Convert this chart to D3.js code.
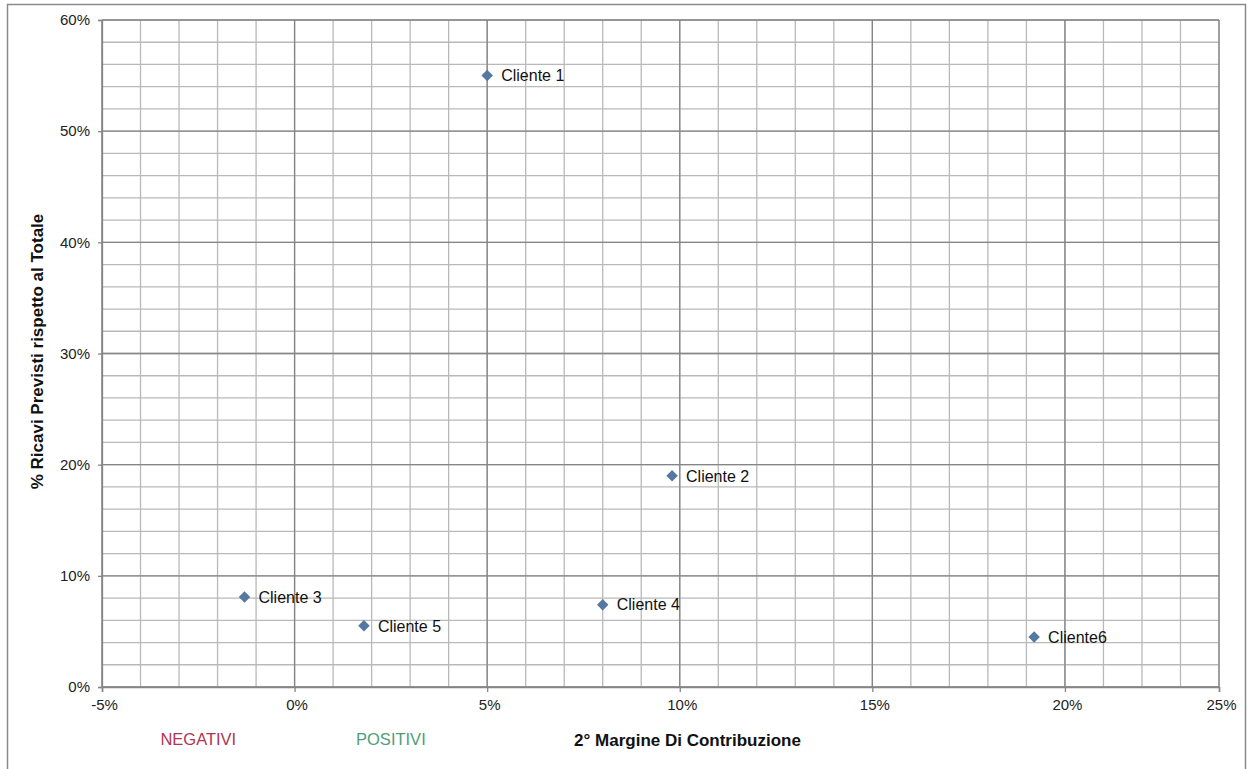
<!DOCTYPE html>
<html>
<head>
<meta charset="utf-8">
<script src="https://cdn.jsdelivr.net/npm/d3@7"></script>
<style>
  html, body { margin: 0; padding: 0; background: #fff; }
  svg { display: block; font-family: "Liberation Sans", Arial, sans-serif; }
</style>
</head>
<body>
<svg id="chart" width="1248" height="769"></svg>
<script>
// ---- data ----
const clients = ["Cliente 1", "Cliente 2", "Cliente 3", "Cliente 4", "Cliente 5", "Cliente6"];
const margin2 = [5.0, 9.8, -1.3, 8.0, 1.8, 19.2];      // 2° Margine Di Contribuzione (%)
const revenueShare = [55.0, 19.0, 8.1, 7.4, 5.5, 4.5]; // % Ricavi Previsti rispetto al Totale

const xMajorTicks = [-5, 0, 5, 10, 15, 20, 24];
const xTickLabels = ["-5%", "0%", "5%", "10%", "15%", "20%", "25%"];
const yMajorTicks = [0, 10, 20, 30, 40, 50, 60];
const yTickLabels = ["0%", "10%", "20%", "30%", "40%", "50%", "60%"];
const xMinorTicks = d3.range(-5, 24.5, 1);
const yMinorTicks = d3.range(0, 60.5, 2);

const zoneLabels = ["NEGATIVI", "POSITIVI"];
const zoneCenters = [-2.5, 2.5];
const zoneColors = ["#b03650", "#4f9e78"];

// ---- layout ----
const svg = d3.select("#chart");
const plot = { left: 102, right: 1219, top: 20, bottom: 687 };

const x = d3.scaleLinear().domain([-5, 24]).range([plot.left, plot.right]);
const y = d3.scaleLinear().domain([0, 60]).range([plot.bottom, plot.top]);

// outer chart border
svg.append("rect")
  .attr("x", 7.5).attr("y", 4.5).attr("width", 1238).attr("height", 800)
  .attr("fill", "none").attr("stroke", "#8a8a8a").attr("stroke-width", 1.5);

const grid = svg.append("g");
// minor grid
grid.selectAll("line.vmin").data(xMinorTicks).join("line")
  .attr("x1", d => x(d)).attr("x2", d => x(d))
  .attr("y1", plot.top).attr("y2", plot.bottom)
  .attr("stroke", "#b9b9b9").attr("stroke-width", 1.3);
grid.selectAll("line.hmin").data(yMinorTicks).join("line")
  .attr("y1", d => y(d)).attr("y2", d => y(d))
  .attr("x1", plot.left).attr("x2", plot.right)
  .attr("stroke", "#b9b9b9").attr("stroke-width", 1.3);
// major grid
grid.selectAll("line.vmaj").data(xMajorTicks).join("line")
  .attr("x1", d => x(d)).attr("x2", d => x(d))
  .attr("y1", plot.top).attr("y2", plot.bottom)
  .attr("stroke", "#858585").attr("stroke-width", 1.3);
grid.selectAll("line.hmaj").data(yMajorTicks).join("line")
  .attr("y1", d => y(d)).attr("y2", d => y(d))
  .attr("x1", plot.left).attr("x2", plot.right)
  .attr("stroke", "#858585").attr("stroke-width", 1.3);

// axes
const xAxis = d3.axisBottom(x).tickValues(xMajorTicks)
  .tickFormat((d, i) => xTickLabels[i]).tickSize(5).tickPadding(7);
const gx = svg.append("g").attr("transform", `translate(0,${plot.bottom})`).call(xAxis);
gx.select(".domain").attr("stroke", "#858585").attr("stroke-width", 1.5);
gx.selectAll(".tick line").attr("stroke", "#858585").attr("stroke-width", 1.3);
gx.selectAll(".tick text").attr("font-size", 15).attr("fill", "#222").attr("dx", 2)
  .attr("font-family", "Liberation Sans, Arial, sans-serif");

const yAxis = d3.axisLeft(y).tickValues(yMajorTicks)
  .tickFormat((d, i) => yTickLabels[i]).tickSize(4).tickPadding(8);
const gy = svg.append("g").attr("transform", `translate(${plot.left},0)`).call(yAxis);
gy.select(".domain").attr("stroke", "#858585").attr("stroke-width", 1.3);
gy.selectAll(".tick line").attr("stroke", "#858585").attr("stroke-width", 1.3);
gy.selectAll(".tick text").attr("font-size", 15).attr("fill", "#222")
  .attr("font-family", "Liberation Sans, Arial, sans-serif");

// axis titles
svg.append("text")
  .attr("x", (plot.left + plot.right) / 2 + 27).attr("y", 746)
  .attr("text-anchor", "middle").attr("font-size", 17).attr("font-weight", "bold")
  .attr("fill", "#111")
  .text("2° Margine Di Contribuzione");

svg.append("text")
  .attr("transform", `translate(43,${(plot.top + plot.bottom) / 2 - 2})rotate(-90)`)
  .attr("text-anchor", "middle").attr("font-size", 17).attr("font-weight", "bold")
  .attr("fill", "#111")
  .text("% Ricavi Previsti rispetto al Totale");

// zone labels
svg.selectAll("text.zone").data(zoneLabels).join("text")
  .attr("class", "zone")
  .attr("x", (d, i) => x(zoneCenters[i])).attr("y", 745)
  .attr("text-anchor", "middle").attr("font-size", 16.5)
  .attr("fill", (d, i) => zoneColors[i])
  .text(d => d);

// points
const pts = clients.map((c, i) => ({ name: c, mx: margin2[i], ry: revenueShare[i] }));
const sym = d3.symbol().type(d3.symbolSquare).size(66);
svg.selectAll("path.pt").data(pts).join("path")
  .attr("class", "pt")
  .attr("d", sym)
  .attr("transform", d => `translate(${x(d.mx)},${y(d.ry)})rotate(45)`)
  .attr("fill", "#5578a3");

svg.selectAll("text.lbl").data(pts).join("text")
  .attr("class", "lbl")
  .attr("x", d => x(d.mx) + 14).attr("y", d => y(d.ry))
  .attr("dy", "0.36em")
  .attr("font-size", 16).attr("fill", "#111")
  .text(d => d.name);
</script>
</body>
</html>
